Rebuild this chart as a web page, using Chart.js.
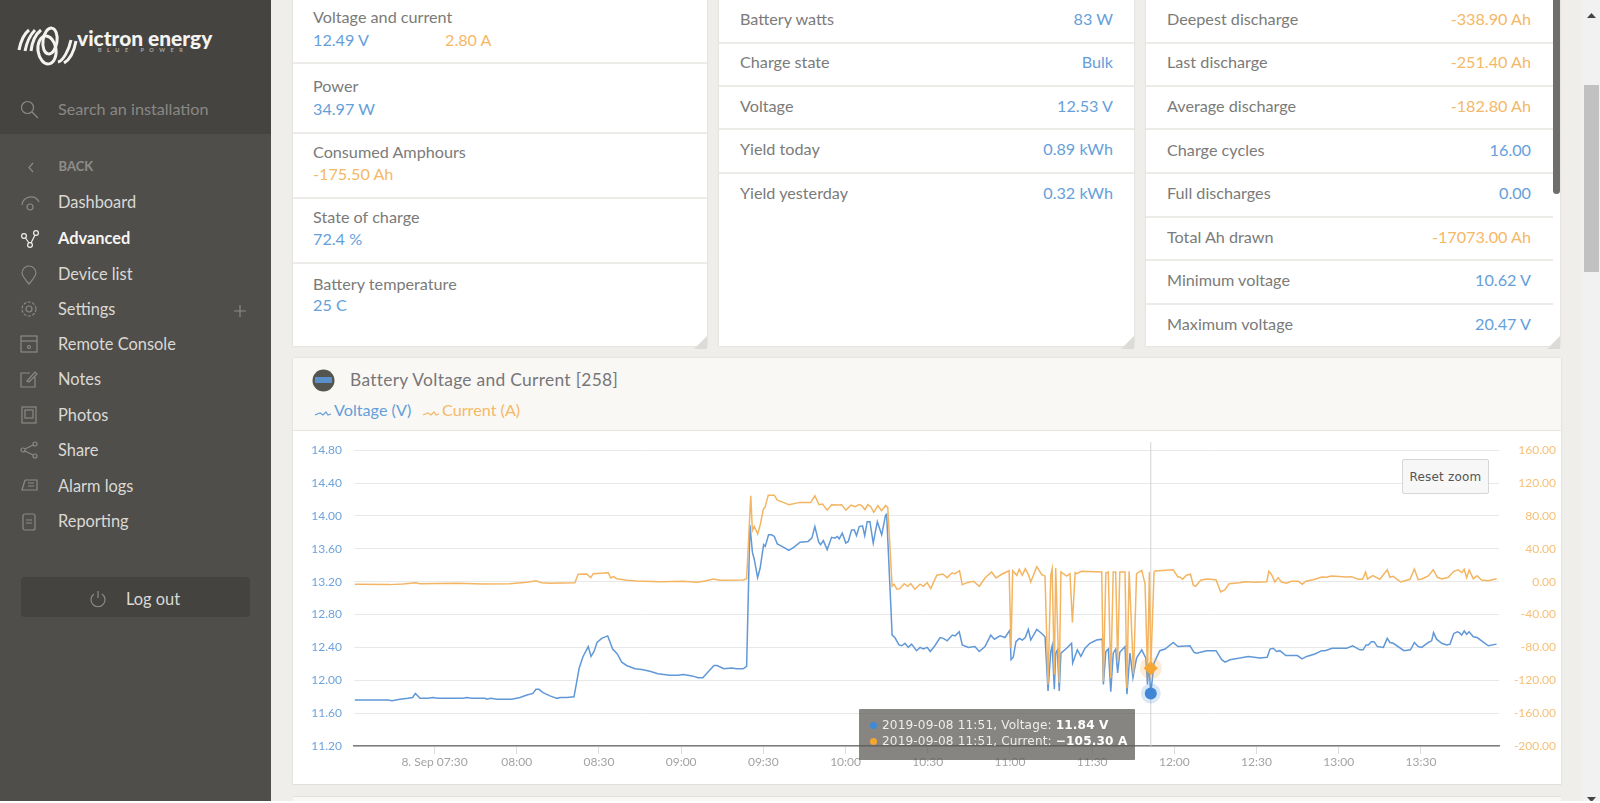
<!DOCTYPE html>
<html>
<head>
<meta charset="utf-8">
<title>Battery Voltage and Current</title>
<script src="https://cdn.jsdelivr.net/npm/chart.js@4"></script>
<style>
html,body{margin:0;padding:0;width:1600px;height:803px;overflow:hidden;background:#efeeea;font-family:Lato,sans-serif;}
.abs{position:absolute;}
.t{position:absolute;white-space:nowrap;transform:translateY(-50%);font-size:16.2px;color:#7b7b79;}
.r{transform:translate(-100%,-50%);}
.blue{color:#659fda;}
.orange{color:#f5b866;}
.nav{color:#dbd9d5;font-size:16.4px;}
</style>
</head>
<body>
<div id="page"></div>
<canvas id="chart" class="abs" style="left:292px;top:431px;"></canvas>
<div id="top"></div>
<script>
// minutes since midnight
const voltageTimes = [420.9,433.0,434.5,437.4,440.3,442.0,443.0,444.7,447.6,449.4,451.2,460.4,461.8,463.6,468.4,469.1,470.5,472.8,478.2,481.2,483.7,485.9,487.0,488.1,489.6,492.1,494.7,495.8,498.3,500.9,
502.8,504.2,506.1,507.1,508.2,509.3,511.0,513.2,515.0,516.7,518.3,520.1,523.1,525.6,528.6,531.5,535.9,538.8,540.7,542.5,544.3,546.2,547.9,549.8,552.0,553.1,555.6,558.4,560.3,562.6,563.9,
565.1,566.0,566.7,567.9,568.8,570.1,570.7,571.9,573.0,574.0,575.1,577.3,579.3,581.2,583.4,586.3,587.7,588.8,590.2,590.9,591.9,593.3,594.9,596.1,597.0,597.7,598.8,600.1,601.0,602.2,603.2,604.0,605.0,606.2,607.0,607.9,608.9,610.1,611.6,613.2,614.6,615.0,
617.0,618.0,619.5,620.5,621.7,622.9,624.1,625.9,627.2,628.4,629.8,630.9,632.6,634.5,635.7,637.1,639.0,640.0,641.5,642.6,644.8,647.2,648.8,650.9,653.0,654.3,656.4,658.2,660.0,660.4,661.2,662.2,663.4,664.5,665.6,666.7,667.6,669.8,671.6,672.8,
673.9,674.9,675.4,676.2,676.7,677.3,678.0,678.6,680.7,682.5,682.9,684.6,685.9,687.4,689.2,691.6,693.7,694.1,695.0,695.9,696.8,697.7,698.6,699.3,700.1,702.0,702.7,703.8,704.9,706.2,708.1,709.6,710.2,710.7,711.4,
712.6,714.7,716.6,719.6,721.3,725.7,727.2,728.1,731.8,735.2,737.3,738.5,740.3,743.9,747.0,751.2,753.9,754.9,756.1,757.3,758.5,760.7,764.9,766.6,768.3,771.3,773.8,775.0,777.6,782.9,785.1,787.7,788.9,790.0,790.8,791.9,792.9,794.1,796.3,797.7,798.7,799.9,803.8,806.2,807.6,809.0,810.3,812.7,813.9,814.6,815.7,817.6,819.4,820.6,822.0,823.3,824.0,824.9,825.8,826.7,827.6,829.1,830.5,834.6,837.6];
const voltageValues = [11.76,11.76,11.75,11.77,11.78,11.79,11.84,11.78,11.78,11.79,11.78,11.78,11.79,11.78,11.78,11.77,11.78,11.77,11.77,11.79,11.82,11.84,11.89,11.89,11.85,11.81,11.78,11.79,11.79,11.80,
12.15,12.29,12.41,12.29,12.35,12.46,12.51,12.54,12.38,12.32,12.22,12.18,12.14,12.13,12.11,12.08,12.06,12.06,12.07,12.06,12.05,12.03,12.03,12.10,12.18,12.18,12.14,12.15,12.14,12.14,12.17,
13.89,13.56,13.47,13.25,13.36,13.65,13.63,13.77,13.77,13.75,13.66,13.62,13.58,13.62,13.68,13.69,13.73,13.87,13.68,13.65,13.70,13.59,13.74,13.73,13.75,13.72,13.79,13.67,13.69,13.83,13.83,13.76,13.87,13.88,13.76,13.93,13.93,13.67,13.93,13.77,14.01,14.02,
12.55,12.52,12.43,12.42,12.45,12.40,12.44,12.36,12.40,12.38,12.40,12.35,12.42,12.52,12.51,12.48,12.55,12.54,12.59,12.43,12.40,12.41,12.35,12.41,12.55,12.50,12.54,12.52,12.61,12.25,12.28,12.47,12.51,12.49,12.52,12.62,12.49,12.62,12.57,12.53,
11.87,12.35,12.42,11.89,12.33,12.37,11.87,12.33,12.39,12.45,12.21,12.37,12.29,12.39,12.45,12.49,12.50,11.95,12.35,12.38,11.86,12.33,12.38,12.09,12.34,12.41,11.83,12.33,12.03,12.27,12.37,12.27,11.95,12.18,11.84,
12.21,12.36,12.38,12.46,12.41,12.42,12.34,12.33,12.36,12.36,12.25,12.22,12.25,12.27,12.29,12.27,12.28,12.38,12.39,12.35,12.36,12.30,12.30,12.26,12.29,12.32,12.36,12.36,12.39,12.39,12.42,12.37,12.37,12.43,12.43,12.47,12.47,12.41,12.40,12.51,12.46,12.45,12.36,12.37,12.46,12.41,12.40,12.46,12.48,12.58,12.50,12.45,12.43,12.44,12.57,12.59,12.58,12.55,12.60,12.56,12.59,12.53,12.52,12.42,12.44];
const currentTimes = [420.9,433.7,438.5,443.0,444.7,458.2,467.7,477.5,483.7,487.0,489.1,492.1,501.2,502.4,505.5,507.0,507.9,513.4,514.3,515.2,516.5,520.1,523.8,532.3,540.8,545.7,548.7,551.7,554.2,562.7,563.9,
565.4,566.0,566.7,567.9,568.8,570.0,570.6,571.8,574.0,575.1,577.3,579.3,583.4,587.3,588.8,590.3,591.6,593.3,594.9,597.3,598.6,600.1,602.0,603.4,605.0,605.9,607.1,608.1,609.2,610.3,611.8,613.1,614.6,615.4,
617.0,617.7,618.7,619.8,621.4,622.7,623.8,625.3,627.2,628.4,629.8,631.1,633.3,635.5,637.1,638.8,640.0,641.6,642.6,644.3,646.7,648.8,650.9,653.3,654.9,657.0,659.7,660.4,661.0,662.5,663.4,664.5,665.6,666.7,667.6,669.8,671.6,672.8,
673.9,674.9,675.4,676.2,676.7,678.0,678.6,680.7,681.9,682.8,683.8,684.3,686.2,693.5,694.1,695.0,695.9,696.8,697.7,698.6,699.3,700.1,702.0,702.7,703.5,705.1,706.2,708.1,709.3,710.2,710.9,711.4,
712.6,713.0,719.6,721.3,722.0,723.0,724.4,725.9,726.9,727.8,729.6,731.8,735.2,736.9,738.5,740.0,743.9,745.8,749.4,753.7,754.5,755.5,756.7,757.9,759.1,760.9,762.8,765.2,766.7,768.0,770.7,773.8,775.6,777.3,782.9,784.7,787.1,788.7,789.8,790.5,792.4,795.0,797.7,798.7,799.9,802.6,806.0,807.6,809.0,810.3,812.7,814.5,816.0,817.6,820.0,822.0,823.6,824.9,825.8,826.7,827.6,829.1,830.5,832.1,834.6,837.6];
const currentValues = [-3.1,-3.6,-2.8,-1.2,-2.4,-1.9,-2.8,-2.4,-0.7,1.2,-1.2,-1.9,-1.2,9.0,9.3,4.9,9.7,10.9,4.5,6.1,3.6,1.7,0.9,0.0,0.5,-0.7,0.9,3.3,1.7,2.1,3.6,
104.6,62.2,67.4,58.1,68.3,88.3,90.4,105.3,105.3,99.2,96.5,93.7,96.5,96.5,104.6,93.7,94.4,87.1,93.7,93.2,93.7,87.1,93.2,91.2,93.7,92.5,87.6,93.7,91.2,84.4,92.5,86.4,92.5,90.4,
-5.6,-3.1,-9.2,-8.5,-2.4,-5.6,-2.4,-9.2,-3.1,-5.6,-1.2,-8.5,7.8,9.3,4.9,10.5,9.7,13.3,-3.6,-1.2,0.5,-5.6,4.5,11.8,4.5,9.0,13.3,-81.1,13.3,7.8,15.0,7.8,15.7,9.0,-0.4,18.2,8.5,6.9,
-125.0,7.8,15.7,-112.9,16.5,-123.4,11.8,6.9,9.7,-49.6,10.9,9.7,12.6,11.8,-121.3,10.9,11.8,-117.4,11.8,11.8,-97.1,11.8,11.8,-129.5,12.6,-113.0,9.7,13.8,-2.4,-109.3,11.8,-105.3,
11.8,13.0,14.5,5.7,5.7,2.9,7.8,9.0,-4.2,-5.6,1.7,3.3,2.4,-12.4,-9.7,-2.4,-1.2,0.0,-0.7,0.0,12.6,8.5,-0.4,4.9,-0.4,-1.9,0.5,0.5,-3.1,0.5,2.4,5.7,5.3,6.9,5.7,6.1,2.9,2.9,11.8,3.3,7.3,2.9,14.5,5.3,6.5,-0.4,2.9,15.4,2.4,3.3,6.9,14.5,5.3,3.3,5.3,12.6,14.5,10.9,15.0,4.9,14.2,3.6,7.3,2.1,1.2,3.6];
const tickMinutes = [450,480,510,540,570,600,630,660,690,720,750,780,810];
const tickLabels = ['8. Sep 07:30','08:00','08:30','09:00','09:30','10:00','10:30','11:00','11:30','12:00','12:30','13:00','13:30'];
const markerTime = 711.4;
const markerVoltage = 11.84;
const markerCurrent = -105.3;

const leftLabels = ['Voltage and current','Power','Consumed Amphours','State of charge','Battery temperature'];
const middleLabels = ['Battery watts','Charge state','Voltage','Yield today','Yield yesterday'];
const middleValues = ['83 W','Bulk','12.53 V','0.89 kWh','0.32 kWh'];
const rightLabels = ['Deepest discharge','Last discharge','Average discharge','Charge cycles','Full discharges','Total Ah drawn','Minimum voltage','Maximum voltage'];
const rightValues = ['-338.90 Ah','-251.40 Ah','-182.80 Ah','16.00','0.00','-17073.00 Ah','10.62 V','20.47 V'];
const navItems = ['Dashboard','Advanced','Device list','Settings','Remote Console','Notes','Photos','Share','Alarm logs','Reporting'];

var page = document.getElementById('page');
var top_ = document.getElementById('top');

function box(x, y, w, h, css, parent) {
  var d = document.createElement('div');
  d.className = 'abs';
  d.style.cssText = 'left:' + x + 'px;top:' + y + 'px;width:' + w + 'px;height:' + h + 'px;' + (css || '');
  (parent || page).appendChild(d);
  return d;
}
function txt(x, y, s, cls, css, parent) {
  var d = document.createElement('div');
  d.className = 't ' + (cls || '');
  d.style.cssText = 'left:' + x + 'px;top:' + y + 'px;' + (css || '');
  d.textContent = s;
  (parent || page).appendChild(d);
  return d;
}
function svg(x, y, w, h, inner, parent) {
  var d = box(x, y, w, h, '', parent);
  d.innerHTML = '<svg width="' + w + '" height="' + h + '" viewBox="0 0 ' + w + ' ' + h + '" fill="none" stroke="#8b8a86" stroke-width="1.2">' + inner + '</svg>';
  return d;
}

// sidebar
box(0, 0, 271, 803, 'background:#4f4e4a;');
box(0, 0, 271, 134, 'background:#454441;');
svg(16, 26, 64, 42, '<g stroke="#f4f3f0" stroke-width="3">' +
  '<ellipse cx="34" cy="15" rx="7" ry="13" transform="rotate(8 34 15)"/><ellipse cx="31" cy="24" rx="9" ry="14" transform="rotate(-8 31 24)"/>' +
  '<path d="M3 24 C5 14 9 7 13 4 M9 25 C11 15 15 8 19 4 M15 25 C16 16 20 8 25 4 M42 36 C47 35 53 24 55 14 M48 37 C53 34 58 26 60 15"/></g>');
txt(77, 37, 'victron energy', '', 'font-weight:900;font-size:20.9px;color:#f4f3f0;');
txt(98, 50, 'BLUE POWER', '', 'font-size:5.5px;color:#aaa9a5;letter-spacing:5.5px;font-weight:700;');
svg(19, 99, 20, 20, '<circle cx="8.5" cy="8.5" r="6"/><path d="M13 13 L19 19"/>');
txt(58, 108, 'Search an installation', '', 'color:#898884;');
svg(24, 158, 14, 14, '<path d="M9 3 L5 7.5 L9 12"/>');
txt(58.5, 166, 'BACK', '', 'font-size:13px;font-weight:700;color:#8f8e8a;');
var navY = [201, 237, 273, 308, 343, 378, 413.5, 449, 485, 519.5];
var navIcons = [
  '<path d="M2 12 A9 9 0 0 1 19 9"/><circle cx="10" cy="14" r="3"/>',
  '<circle cx="4" cy="7" r="2.4" stroke="#eee"/><circle cx="10" cy="16" r="2.4" stroke="#eee"/><circle cx="16" cy="4" r="2.4" stroke="#eee"/><path d="M5.5 9 L9 14 M11 14 L15 6" stroke="#eee"/>',
  '<path d="M9 19 C3 12 2 10 2 8 A7 7 0 0 1 16 8 C16 10 15 12 9 19Z"/>',
  '<circle cx="9" cy="9" r="3"/><circle cx="9" cy="9" r="7" stroke-dasharray="3 1.5"/>',
  '<rect x="1" y="1" width="16" height="16"/><path d="M1 6 H17"/><circle cx="9" cy="12" r="1.5"/>',
  '<path d="M15 7 V17 H1 V3 H10"/><path d="M7 11 L15 2 L17 4 L9 12Z"/>',
  '<rect x="2" y="1" width="14" height="16"/><rect x="5" y="4" width="8" height="8"/>',
  '<circle cx="3" cy="9" r="2"/><circle cx="15" cy="3" r="2"/><circle cx="15" cy="15" r="2"/><path d="M5 8 L13 4 M5 10 L13 14"/>',
  '<path d="M5 3 H17 V13 H2 L5 3 M8 6 H14 M8 9 H14"/>',
  '<rect x="3" y="2" width="12" height="16" rx="2"/><path d="M6 8 H12 M6 11 H12"/>'
];
navItems.forEach(function(s, i) {
  var active = s === 'Advanced';
  txt(58, navY[i], s, 'nav', active ? 'font-weight:700;color:#f6f5f2;' : '');
  svg(20, navY[i] - 8, 20, 20, navIcons[i]);
});
svg(233, 302, 14, 14, '<path d="M7 1 V13 M1 7 H13"/>');
box(21, 577, 229, 40, 'background:#444340;border-radius:4px;');
svg(89, 589, 18, 20, '<path d="M5 5 A7 7 0 1 0 13 5 M9 2 V9"/>');
txt(126, 598, 'Log out', 'nav');

// scrollbar of the window
box(1582, 0, 18, 803, 'background:#f1f1f1;');
box(1584, 85, 15, 187, 'background:#c1c1c1;');
svg(1586, 4, 11, 8, '<path d="M1 6 L5.5 1 L10 6Z" fill="#444" stroke="none"/>');
svg(1586, 788, 11, 8, '<path d="M1 1 L5.5 6 L10 1Z" fill="#444" stroke="none"/>');

// three cards on top
box(293, -4, 414, 350, 'background:#fff;box-shadow:0 0 2px #d5d4d0;');
box(719, -4, 415, 350, 'background:#fff;box-shadow:0 0 2px #d5d4d0;');
box(1146, -4, 414, 350, 'background:#fff;box-shadow:0 0 2px #d5d4d0;');
[62, 132, 197, 262].forEach(function(y) { box(293, y, 414, 1.5, 'background:#ecebe8;'); });
[42, 85, 128, 172].forEach(function(y) { box(719, y, 415, 1.5, 'background:#ecebe8;'); });
[42, 85, 128, 172, 216, 259, 303].forEach(function(y) { box(1146, y, 407, 1.5, 'background:#ecebe8;'); });
box(1553, 0, 7, 194, 'background:#6e6e6c;border-radius:0 0 4px 4px;');
[707, 1134, 1560].forEach(function(x) {
  svg(x - 13, 333, 13, 13, '<path d="M13 0 V13 H0Z" fill="#dcdbd8" stroke="none"/>');
});

var leftY = [16, 85, 151, 216, 283];
leftLabels.forEach(function(s, i) { txt(313, leftY[i], s); });
txt(313, 39, '12.49 V', 'blue');
txt(445, 39, '2.80 A', 'orange');
txt(313, 108, '34.97 W', 'blue');
txt(313, 172.5, '-175.50 Ah', 'orange');
txt(313, 238, '72.4 %', 'blue');
txt(313, 304, '25 C', 'blue');

var middleY = [17.5, 60.5, 104.5, 148, 191.5];
middleLabels.forEach(function(s, i) {
  txt(740, middleY[i], s);
  txt(1113, middleY[i], middleValues[i], 'r blue');
});
var rightY = [17.5, 60.5, 104.5, 148.5, 191.5, 235.5, 278.5, 322.5];
rightLabels.forEach(function(s, i) {
  txt(1167, rightY[i], s);
  txt(1531, rightY[i], rightValues[i], 'r ' + (rightValues[i].charAt(0) === '-' ? 'orange' : 'blue'));
});

// chart card
box(293, 358, 1268, 426, 'background:#fff;box-shadow:0 0 2px #d5d4d0;');
box(293, 358, 1268, 73, 'background:#f9f8f5;border-bottom:1px solid #e6e4e0;box-sizing:border-box;');
svg(312, 369, 23, 23, '<circle cx="11.5" cy="11.5" r="11" fill="#55554f" stroke="none"/><rect x="3" y="8" width="17" height="6" fill="#5b8fc9" stroke="none"/>');
txt(350, 379, 'Battery Voltage and Current [258]', '', 'font-size:17.4px;letter-spacing:.3px;color:#77767a;');
svg(314, 403, 18, 12, '<path d="M1 8 L6 6 L9 8 L12 5 L14 8 L17 7" stroke="#659fda"/>');
txt(334, 409, 'Voltage (V)', 'blue');
svg(422, 403, 18, 12, '<path d="M1 8 L6 6 L9 8 L12 5 L14 8 L17 7" stroke="#f5b866"/>');
txt(442, 409, 'Current (A)', 'orange');
box(293, 784, 1268, 1, 'background:#e2e0dc;');
box(293, 796, 1268, 4, 'background:#f9f8f5;border-top:1px solid #e2e0dc;border-bottom:1px solid #e2e0dc;');
box(0, 801, 1600, 2, 'background:#fff;');

// reset button and tooltip go above the canvas
box(1402, 459, 87, 35, 'background:#f7f7f7;border:1.5px solid #d6d6d6;border-radius:2px;box-sizing:border-box;', top_);
txt(1445.5, 476.5, 'Reset zoom', '', 'font-family:"DejaVu Sans";font-size:12px;letter-spacing:.2px;color:#555;transform:translate(-50%,-50%);', top_);
box(859, 708.5, 276, 51, 'background:rgba(92,91,86,.74);border-radius:1px;', top_);
box(869.5, 721.5, 7, 7, 'background:#3f8ad8;border-radius:50%;', top_);
box(869.5, 737.5, 7, 7, 'background:#f5a531;border-radius:50%;', top_);
var tipStyle = 'font-family:"DejaVu Sans";font-size:12.1px;letter-spacing:.14px;color:#eee;';
txt(882, 725, '', '', tipStyle, top_).innerHTML = '2019-09-08 11:51, Voltage: <b style="color:#fff">11.84 V</b>';
txt(882, 741, '', '', tipStyle, top_).innerHTML = '2019-09-08 11:51, Current: <b style="color:#fff">&minus;105.30 A</b>';

function toPoints(times, values) {
  return times.map(function(t, i) { return {x: t, y: values[i]}; });
}
function markerStyle(times, normal, hit) {
  return function(ctx) { return times[ctx.dataIndex] === markerTime ? hit : normal; };
}

// vertical crosshair and halos at the hovered sample
const crosshair = {
  id: 'crosshair',
  beforeDatasetsDraw(chart) {
    var c = chart.ctx, x = chart.scales.x.getPixelForValue(markerTime);
    c.save();
    c.strokeStyle = '#d2d2d2';
    c.lineWidth = 1;
    c.beginPath();
    c.moveTo(x, chart.chartArea.top - 8);
    c.lineTo(x, chart.chartArea.bottom);
    c.stroke();
    c.restore();
  },
  afterDatasetsDraw(chart) {
    var c = chart.ctx, x = chart.scales.x.getPixelForValue(markerTime);
    c.save();
    c.fillStyle = 'rgba(245,175,70,.24)';
    c.beginPath();
    c.arc(x, chart.scales.right.getPixelForValue(markerCurrent), 11, 0, Math.PI * 2);
    c.fill();
    c.fillStyle = 'rgba(63,134,214,.2)';
    c.beginPath();
    c.arc(x, chart.scales.left.getPixelForValue(markerVoltage), 10, 0, Math.PI * 2);
    c.fill();
    c.restore();
  }
};

var canvas = document.getElementById('chart');
canvas.width = 1269;
canvas.height = 353;
canvas.style.width = '1269px';
canvas.style.height = '353px';

new Chart(canvas, {
  type: 'line',
  data: {
    datasets: [
      {
        label: 'Current (A)',
        yAxisID: 'right',
        data: toPoints(currentTimes, currentValues),
        borderColor: '#f3b562',
        borderWidth: 1.5,
        tension: 0,
        pointStyle: 'rectRot',
        pointRadius: markerStyle(currentTimes, 0, 7),
        pointBackgroundColor: '#f5a531',
        pointBorderColor: '#f5a531',
        pointBorderWidth: 0
      },
      {
        label: 'Voltage (V)',
        yAxisID: 'left',
        data: toPoints(voltageTimes, voltageValues),
        borderColor: '#6098d8',
        borderWidth: 1.5,
        tension: 0,
        pointRadius: markerStyle(voltageTimes, 0, 6),
        pointBackgroundColor: '#3f86d6',
        pointBorderColor: '#3f86d6',
        pointBorderWidth: 0
      }
    ]
  },
  options: {
    responsive: false,
    animation: false,
    layout: {padding: {top: 11, right: 5}},
    plugins: {legend: {display: false}, tooltip: {enabled: false}},
    scales: {
      x: {
        type: 'linear',
        min: 420.6,
        max: 838.6,
        afterBuildTicks(scale) { scale.ticks = tickMinutes.map(function(v) { return {value: v}; }); },
        afterFit(scale) { scale.height = 38; },
        grid: {drawOnChartArea: false, tickLength: 8, tickColor: '#dcdcdc'},
        border: {color: '#7c7c7c', width: 1.5},
        ticks: {
          autoSkip: false,
          maxRotation: 0,
          padding: 1,
          color: '#a3a3a3',
          font: {family: 'Lato', size: 12},
          callback(v) { return tickLabels[tickMinutes.indexOf(v)]; }
        }
      },
      left: {
        position: 'left',
        min: 11.2,
        max: 14.8,
        afterFit(scale) { scale.width = 62; },
        grid: {color: '#e8e8e8', drawTicks: false},
        border: {display: false},
        ticks: {
          stepSize: 0.4,
          padding: 12,
          color: '#6fa3da',
          font: {family: 'Lato', size: 12},
          callback(v) { return v.toFixed(2); }
        }
      },
      right: {
        position: 'right',
        min: -200,
        max: 160,
        afterFit(scale) { scale.width = 56.7; },
        grid: {display: false, drawTicks: false},
        border: {display: false},
        ticks: {
          stepSize: 40,
          padding: 5,
          crossAlign: 'far',
          color: '#f5c078',
          font: {family: 'Lato', size: 12},
          callback(v) { return v.toFixed(2); }
        }
      }
    }
  },
  plugins: [crosshair]
});
</script>
</body>
</html>
